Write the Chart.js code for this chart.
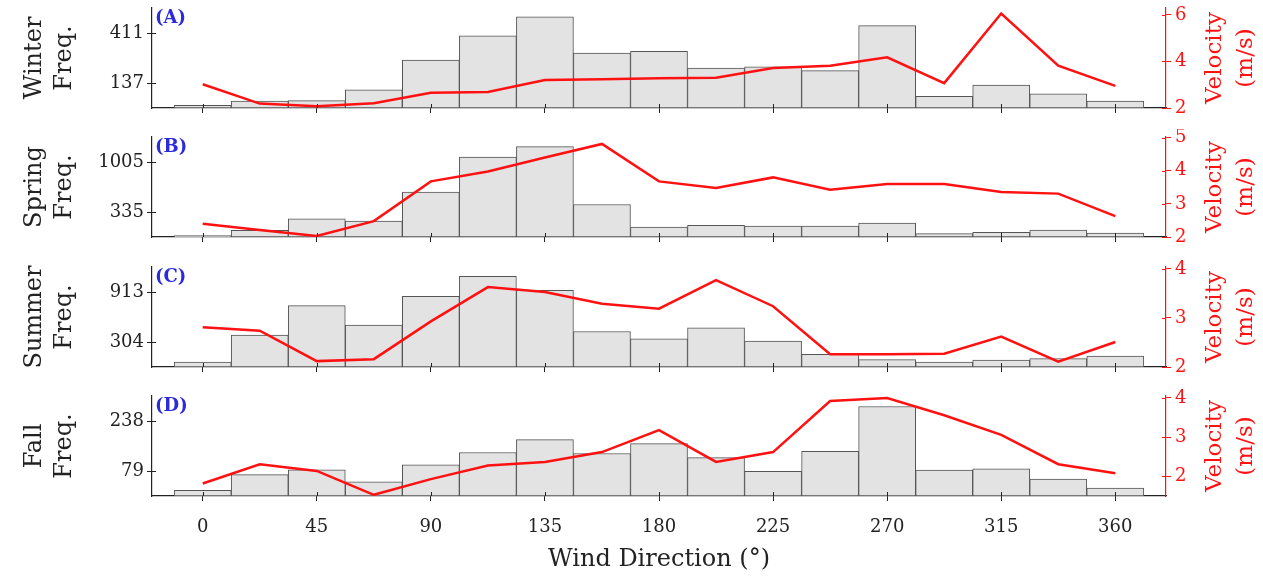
<!DOCTYPE html>
<html>
<head>
<meta charset="utf-8">
<script src="https://cdn.jsdelivr.net/npm/chart.js@4.4.1/dist/chart.umd.min.js"></script>
<style>
body{margin:0;background:#fff;width:1263px;height:577px;overflow:hidden;position:relative}
canvas{position:absolute;left:0}
</style>
</head>
<body>
<canvas id="winter" width="1263" height="129" style="top:0px"></canvas>
<canvas id="spring" width="1263" height="129" style="top:129px"></canvas>
<canvas id="summer" width="1263" height="129" style="top:259px"></canvas>
<canvas id="fall" width="1263" height="189" style="top:388px"></canvas>
<script>
const directions = [0,22.5,45,67.5,90,112.5,135,157.5,180,202.5,225,247.5,270,292.5,315,337.5,360];
const xTicks = [0,45,90,135,180,225,270,315,360];

const winterFreq = [15,38,40,100,263,396,499,301,311,219,225,205,451,64,126,77,38];
const winterVel  = [3.02,2.19,2.07,2.2,2.66,2.69,3.2,3.24,3.28,3.3,3.72,3.82,4.18,3.07,6.06,3.82,2.95];
const springFreq = [18,89,245,214,601,1072,1210,436,134,156,147,147,187,45,62,93,53];
const springVel  = [2.4,2.21,2.03,2.48,3.68,3.98,4.4,4.81,3.68,3.48,3.8,3.43,3.6,3.6,3.36,3.31,2.63];
const summerFreq = [61,388,747,509,861,1103,933,432,343,477,315,154,89,61,85,101,133];
const summerVel  = [2.81,2.74,2.12,2.16,2.93,3.63,3.53,3.29,3.19,3.77,3.24,2.26,2.26,2.27,2.62,2.11,2.51];
const fallFreq   = [18,68,83,45,99,138,179,135,166,122,78,142,284,82,86,54,25];
const fallVel    = [1.82,2.31,2.14,1.53,1.93,2.28,2.37,2.62,3.18,2.37,2.62,3.92,4.0,3.56,3.06,2.31,2.08];

const winterFreqTicks = [137,411];
const springFreqTicks = [335,1005];
const summerFreqTicks = [304,913];
const fallFreqTicks   = [79,238];

const winterVelRange = [2,6.3];
const springVelRange = [2,5.02];
const summerVelRange = [2,4.04];
const fallVelRange   = [1.5,4.05];
const winterVelTicks = [2,4,6];
const springVelTicks = [2,3,4,5];
const summerVelTicks = [2,3,4];
const fallVelTicks   = [2,3,4];

const RED = '#ff1111';
const INK = '#222';
const serif = '"DejaVu Serif", serif';

// side title on the right, panel letter, and small inward tick marks
const sideText = {
  id:'sideText',
  afterDraw(chart, args, opts){
    const {ctx, chartArea:a, scales} = chart;
    ctx.save();
    ctx.lineWidth = 1;
    ctx.strokeStyle = INK;
    ctx.beginPath();
    xTicks.forEach(v=>{
      const px = Math.round(scales.x.getPixelForValue(v))+0.5;
      ctx.moveTo(px, a.bottom); ctx.lineTo(px, a.bottom-4);
    });
    scales.y.ticks.forEach(t=>{
      const py = Math.round(scales.y.getPixelForValue(t.value))+0.5;
      ctx.moveTo(a.left, py); ctx.lineTo(a.left+4, py);
    });
    ctx.stroke();
    ctx.strokeStyle = RED;
    ctx.beginPath();
    scales.y2.ticks.forEach(t=>{
      const py = Math.round(scales.y2.getPixelForValue(t.value))+0.5;
      ctx.moveTo(a.right, py); ctx.lineTo(a.right-4, py);
    });
    ctx.stroke();

    ctx.font = 'bold 18px "DejaVu Serif"';
    ctx.fillStyle = '#2b2bdd';
    ctx.textBaseline = 'middle';
    ctx.textAlign = 'left';
    ctx.fillText(opts.letter, a.left+3, a.top+10);
    ctx.translate(a.right+49, (a.top+a.bottom)/2);
    ctx.rotate(-Math.PI/2);
    ctx.font = '23px ' + serif;
    ctx.fillStyle = RED;
    ctx.textAlign = 'center';
    ctx.fillText('Velocity', 0, 0);
    ctx.fillText('(m/s)', 0, 31);
    ctx.restore();
  }
};

function noPad(s){ s.paddingTop = 0; s.paddingBottom = 0; }

function makePanel(id, letter, season, freq, vel, fTicks, vRange, vTicks, bottom){
  new Chart(document.getElementById(id), {
    type:'bar',
    data:{
      datasets:[
        {
          type:'line',
          data:directions.map((d,i)=>({x:d,y:vel[i]})),
          yAxisID:'y2',
          borderColor:RED,
          borderWidth:2.5,
          pointRadius:0,
          tension:0,
          order:0
        },
        {
          type:'bar',
          data:directions.map((d,i)=>({x:d,y:freq[i]})),
          yAxisID:'y',
          backgroundColor:'#e3e3e3',
          borderColor:'#555',
          borderWidth:1,
          borderSkipped:false,
          barPercentage:1,
          categoryPercentage:1,
          order:1
        }
      ]
    },
    options:{
      responsive:false,
      animation:false,
      layout:{padding:{top:8,left:0,right:0,bottom:0}},
      plugins:{
        legend:{display:false},
        tooltip:{enabled:false},
        sideText:{letter}
      },
      scales:{
        x:{
          type:'linear',
          min:-20, max:380,
          offset:false,
          afterFit:s=>{ s.height = bottom ? 81 : 21; s.paddingLeft = 0; s.paddingRight = 0; },
          afterBuildTicks:s=>{ s.ticks = xTicks.map(v=>({value:v})); },
          grid:{offset:false,drawOnChartArea:false,drawTicks:true,tickLength:5,color:INK},
          border:{display:true,color:INK,width:1.2},
          ticks:{display:bottom,color:INK,font:{family:serif,size:18},padding:16,maxRotation:0,autoSkip:false},
          title:{display:bottom,text:'Wind Direction (°)',color:INK,font:{family:serif,size:24},padding:{top:0,bottom:3}}
        },
        y:{
          position:'left',
          min:0,
          max:fTicks[1]*4/3,
          afterFit:s=>{ s.width = 152; noPad(s); },
          afterBuildTicks:s=>{ s.ticks = fTicks.map(v=>({value:v})); },
          grid:{drawOnChartArea:false,drawTicks:true,tickLength:5,color:INK},
          border:{display:true,color:INK,width:1.2},
          ticks:{color:INK,font:{family:serif,size:18},padding:3,callback:v=>String(v)},
          title:{display:true,text:[season,'Freq.'],color:INK,font:{family:serif,size:24,lineHeight:1.25},padding:{top:20,bottom:0}}
        },
        y2:{
          position:'right',
          min:vRange[0],
          max:vRange[1],
          afterFit:s=>{ s.width = 97; noPad(s); },
          afterBuildTicks:s=>{ s.ticks = vTicks.map(v=>({value:v})); },
          grid:{drawOnChartArea:false,drawTicks:true,tickLength:5,color:RED},
          border:{display:true,color:RED,width:1.2},
          ticks:{color:RED,font:{family:serif,size:18},padding:4,callback:v=>String(v)}
        }
      }
    },
    plugins:[sideText]
  });
}

makePanel('winter','(A)','Winter',winterFreq,winterVel,winterFreqTicks,winterVelRange,winterVelTicks,false);
makePanel('spring','(B)','Spring',springFreq,springVel,springFreqTicks,springVelRange,springVelTicks,false);
makePanel('summer','(C)','Summer',summerFreq,summerVel,summerFreqTicks,summerVelRange,summerVelTicks,false);
makePanel('fall','(D)','Fall',fallFreq,fallVel,fallFreqTicks,fallVelRange,fallVelTicks,true);
</script>
</body>
</html>
